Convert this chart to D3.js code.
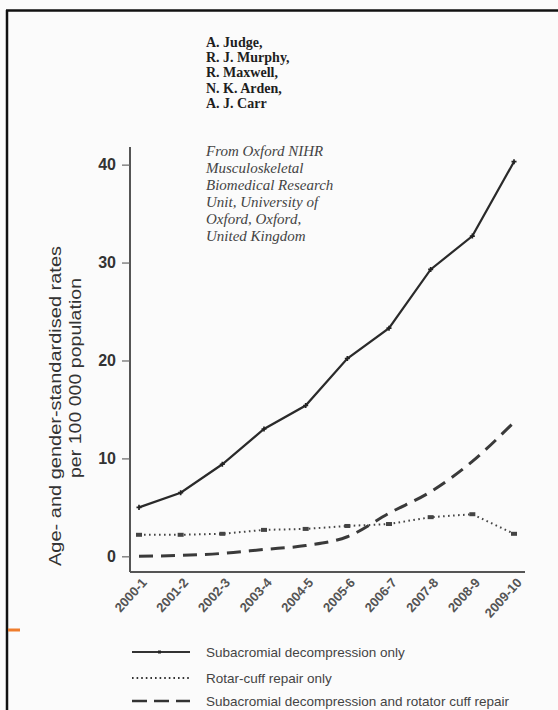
<!DOCTYPE html>
<html>
<head>
<meta charset="utf-8">
<script src="https://cdn.jsdelivr.net/npm/d3@7"></script>
<style>
  html, body { margin: 0; padding: 0; background: #fbfbfb; }
  svg { display: block; }
</style>
</head>
<body>
<div id="chart"></div>
<script>
// data
const years = ["2000-1", "2001-2", "2002-3", "2003-4", "2004-5", "2005-6", "2006-7", "2007-8", "2008-9", "2009-10"];
const sadOnly = [5.0, 6.5, 9.4, 13.0, 15.4, 20.2, 23.3, 29.3, 32.7, 40.3];
const rcrOnly = [2.2, 2.2, 2.3, 2.7, 2.8, 3.1, 3.3, 4.0, 4.3, 2.3];
const sadAndRcr = [0.0, 0.1, 0.3, 0.7, 1.1, 2.0, 4.4, 6.6, 9.7, 13.7];
const yTicks = [0, 10, 20, 30, 40];
const authors = ["A. Judge,", "R. J. Murphy,", "R. Maxwell,", "N. K. Arden,", "A. J. Carr"];
const affiliation = ["From Oxford NIHR", "Musculoskeletal", "Biomedical Research", "Unit, University of", "Oxford, Oxford,", "United Kingdom"];
const legendLabels = ["Subacromial decompression only", "Rotar-cuff repair only", "Subacromial decompression and rotator cuff repair"];

const width = 558, height = 710;
const svg = d3.select("#chart").append("svg")
  .attr("width", width)
  .attr("height", height);

// page frame
svg.append("rect").attr("x", 0).attr("y", 0).attr("width", width).attr("height", height).attr("fill", "#fbfbfb");
svg.append("line").attr("x1", 6).attr("x2", width).attr("y1", 10.5).attr("y2", 10.5)
  .attr("stroke", "#111").attr("stroke-width", 2.5);
svg.append("line").attr("x1", 7).attr("x2", 7).attr("y1", 10).attr("y2", height)
  .attr("stroke", "#111").attr("stroke-width", 2.5);
svg.append("line").attr("x1", 8).attr("x2", 20).attr("y1", 630).attr("y2", 630)
  .attr("stroke", "#ef7d2d").attr("stroke-width", 3);

// scales
const x = d3.scalePoint().domain(years).range([139, 514]);
const y = d3.scaleLinear().domain([-1.6, 41.8]).range([572, 147]);

// axes
const yAxis = svg.append("g")
  .attr("transform", "translate(130,0)")
  .call(d3.axisLeft(y).tickValues(yTicks).tickSize(8).tickPadding(6));
yAxis.select(".domain").attr("stroke", "#555").attr("stroke-width", 2).attr("d", "M0,147V572");
yAxis.selectAll(".tick line").attr("stroke", "#666").attr("stroke-width", 1.2);
yAxis.selectAll(".tick text")
  .attr("font-family", "Liberation Sans, Arial, sans-serif")
  .attr("font-size", 16).attr("font-weight", "bold").attr("fill", "#333");

const xAxis = svg.append("g")
  .attr("transform", "translate(0,572)")
  .call(d3.axisBottom(x).tickSize(0).tickPadding(0));
xAxis.select(".domain").attr("stroke", "#555").attr("stroke-width", 2).attr("d", "M130,0H525");
xAxis.selectAll(".tick text")
  .attr("font-family", "Liberation Sans, Arial, sans-serif")
  .attr("font-size", 13).attr("font-weight", "bold").attr("fill", "#555")
  .attr("text-anchor", "end")
  .attr("dy", 0)
  .attr("transform", "translate(8,11) rotate(-48)");

// y axis title
const ttl = svg.append("g").attr("font-family", "Liberation Sans, Arial, sans-serif")
  .attr("fill", "#333").attr("font-size", 16.5);
ttl.append("text").attr("transform", "translate(61,406) rotate(-90)")
  .attr("text-anchor", "middle").attr("textLength", 320).attr("lengthAdjust", "spacingAndGlyphs")
  .text("Age- and gender-standardised rates");
ttl.append("text").attr("transform", "translate(81,378) rotate(-90)")
  .attr("text-anchor", "middle").attr("textLength", 200).attr("lengthAdjust", "spacingAndGlyphs")
  .text("per 100 000 population");

// lines
const lineGen = d3.line().x((d, i) => x(years[i])).y(d => y(d));
const smoothGen = d3.line().x((d, i) => x(years[i])).y(d => y(d)).curve(d3.curveMonotoneX);

svg.append("path").datum(sadOnly).attr("d", lineGen)
  .attr("fill", "none").attr("stroke", "#2a2a2a").attr("stroke-width", 2.2);
svg.append("path").datum(rcrOnly).attr("d", lineGen)
  .attr("fill", "none").attr("stroke", "#444").attr("stroke-width", 2)
  .attr("stroke-dasharray", "1.6,3.4");
svg.append("path").datum(sadAndRcr).attr("d", smoothGen)
  .attr("fill", "none").attr("stroke", "#3a3a3a").attr("stroke-width", 3)
  .attr("stroke-dasharray", "14,8");

// point markers
svg.append("g").selectAll("path").data(sadOnly).join("path")
  .attr("d", d3.symbol(d3.symbolCross, 14))
  .attr("transform", (d, i) => `translate(${x(years[i])},${y(d)})`)
  .attr("fill", "#222");
svg.append("g").selectAll("rect").data(rcrOnly).join("rect")
  .attr("x", (d, i) => x(years[i]) - 3).attr("y", d => y(d) - 2)
  .attr("width", 6).attr("height", 4).attr("fill", "#444");

// authors and affiliation
const auth = svg.append("g").attr("font-family", "Liberation Serif, Times New Roman, serif")
  .attr("fill", "#1e1e1e").attr("font-size", 14).attr("font-weight", "bold");
auth.selectAll("text").data(authors).join("text")
  .attr("x", 206).attr("y", (d, i) => 47 + i * 15.2).text(d => d);
const aff = svg.append("g").attr("font-family", "Liberation Serif, Times New Roman, serif")
  .attr("fill", "#444").attr("font-size", 15).attr("font-style", "italic");
aff.selectAll("text").data(affiliation).join("text")
  .attr("x", 206).attr("y", (d, i) => 156 + i * 17).text(d => d);

// legend
const legY = [652, 678, 701];
const legStyles = [
  { dash: null, w: 1.8 },
  { dash: "1.6,3", w: 1.8 },
  { dash: "15,7", w: 2.4 }
];
const leg = svg.append("g");
legendLabels.forEach((lab, i) => {
  leg.append("line").attr("x1", 132).attr("x2", 190).attr("y1", legY[i]).attr("y2", legY[i])
    .attr("stroke", "#333").attr("stroke-width", legStyles[i].w)
    .attr("stroke-dasharray", legStyles[i].dash);
  leg.append("text").attr("x", 206).attr("y", legY[i] + 5)
    .attr("font-family", "Liberation Sans, Arial, sans-serif")
    .attr("font-size", 13.5).attr("fill", "#444")
    .text(lab);
});
leg.append("rect").attr("x", 158).attr("y", legY[0] - 1.5).attr("width", 3).attr("height", 3).attr("fill", "#222");
</script>
</body>
</html>
